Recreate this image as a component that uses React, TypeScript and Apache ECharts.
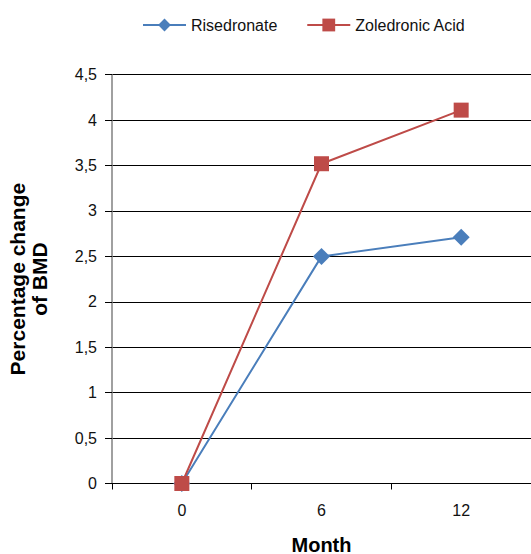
import React, { useEffect, useRef } from "react";
import * as echarts from "echarts";

const months = ["0", "6", "12"];
const risedronate = [0, 2.5, 2.71];
const zoledronicAcid = [0, 3.52, 4.11];
const yTicks = [0, 0.5, 1, 1.5, 2, 2.5, 3, 3.5, 4, 4.5];

export default function App() {
  const ref = useRef<HTMLDivElement>(null);
  useEffect(() => {
    document.body.style.margin = "0";
    const chart = echarts.init(ref.current!, null, { renderer: "svg" });
    const font = "Liberation Sans, Arial, sans-serif";
    chart.setOption({
      animation: false,
      textStyle: { fontFamily: font },
      legend: {
        top: 12,
        left: 137,
        itemGap: 29,
        itemWidth: 43,
        itemHeight: 16,
        textStyle: { fontSize: 16, color: "#111", fontFamily: font },
        data: [
          { name: "Risedronate" },
          { name: "Zoledronic Acid" },
        ],
      },
      grid: { left: 112, right: 0, top: 74.7, bottom: 70.5, outerBoundsMode: "none" },
      xAxis: {
        type: "category",
        data: months,
        boundaryGap: true,
        name: "Month",
        nameLocation: "middle",
        nameGap: 51,
        nameTextStyle: { fontSize: 20, fontWeight: "bold", color: "#000", fontFamily: font },
        axisLine: { lineStyle: { color: "#000", width: 1 } },
        axisTick: { show: true, alignWithLabel: false, length: 6, lineStyle: { color: "#000" } },
        axisLabel: { margin: 19, fontSize: 16, color: "#111", fontFamily: font },
        splitLine: { show: false },
      },
      yAxis: {
        type: "value",
        min: 0,
        max: 4.5,
        interval: 0.5,
        name: "Percentage change\nof BMD",
        nameLocation: "middle",
        nameGap: 62,
        nameRotate: 90,
        nameTextStyle: { fontSize: 21, fontWeight: "bold", color: "#000", lineHeight: 22, fontFamily: font },
        axisLine: { show: true, lineStyle: { color: "#808080", width: 1.5 } },
        axisTick: { show: true, length: 7, lineStyle: { color: "#000" } },
        axisLabel: {
          margin: 15,
          fontSize: 16,
          color: "#111",
          fontFamily: font,
          formatter: (v: number) => {
            const t = yTicks.find((x) => Math.abs(x - v) < 1e-9);
            return String(t !== undefined ? t : v).replace(".", ",");
          },
        },
        splitLine: { show: true, lineStyle: { color: "#000", width: 1 } },
      },
      series: [
        {
          name: "Risedronate",
          type: "line",
          data: risedronate,
          symbol: "diamond",
          symbolSize: 17,
          itemStyle: { color: "#4a7ebb" },
          lineStyle: { color: "#4a7ebb", width: 2 },
          z: 3,
        },
        {
          name: "Zoledronic Acid",
          type: "line",
          data: zoledronicAcid,
          symbol: "rect",
          symbolSize: 15,
          itemStyle: { color: "#be4b48" },
          lineStyle: { color: "#be4b48", width: 2 },
          z: 4,
        },
      ],
    });
    return () => chart.dispose();
  }, []);
  return (
    <div
      ref={ref}
      style={{ position: "absolute", left: 0, top: 0, width: 531, height: 554 }}
    />
  );
}
